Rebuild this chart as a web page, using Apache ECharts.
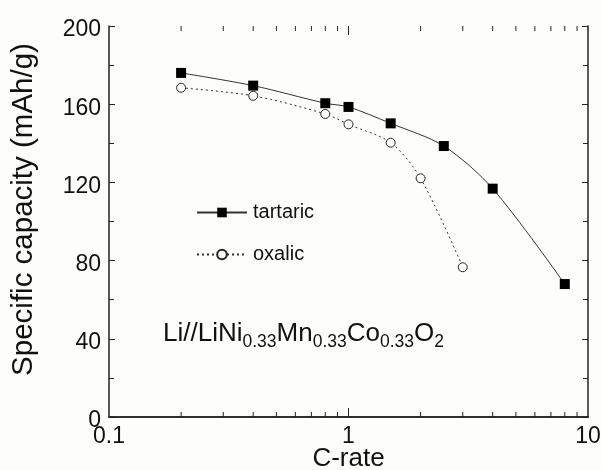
<!DOCTYPE html>
<html>
<head>
<meta charset="utf-8">
<script src="https://cdn.jsdelivr.net/npm/echarts@6/dist/echarts.min.js"></script>
<style>html,body{margin:0;padding:0;background:#fdfdf9;}#c{width:601px;height:470px;}</style>
</head>
<body>
<div id="c"></div>
<script>
// Data
const tartaricRate = [0.2, 0.4, 0.8, 1, 1.5, 2.5, 4, 8];
const tartaricCap  = [176, 169.5, 160.5, 158.6, 150.2, 138.6, 116.8, 68];
const oxalicRate   = [0.2, 0.4, 0.8, 1, 1.5, 2, 3];
const oxalicCap    = [168.4, 164.3, 155, 149.7, 140.3, 122.1, 76.6];
const xLabelTicks  = [0.1, 1, 10];
const xMajorTicks  = [1];
const xMinorTicks  = [0.2,0.3,0.4,0.5,0.6,0.7,0.8,0.9,2,3,4,5,6,7,8,9];
const yTickValues  = [0, 40, 80, 120, 160, 200];

const FONT = '"Liberation Sans", Arial, sans-serif';
const chart = echarts.init(document.getElementById('c'), null, {renderer: 'canvas'});
const gridPos = {left: 109, right: 13, top: 26, bottom: 53, containLabel: false, outerBoundsMode: 'none'};
const axisLine = {show: true, lineStyle: {color: '#222', width: 1.5}};
const tickStyle = {color: '#222', width: 1};
const Y_MIN = 0, Y_MAX = 200;

function xMain(pos, showLabel, extra) {
  return Object.assign({
    type: 'log', logBase: 10, min: 0.1, max: 10, gridIndex: 0, position: pos,
    axisLine: axisLine, axisTick: {show: false}, minorTick: {show: false},
    axisLabel: {show: showLabel, color: '#111', fontSize: 23, fontFamily: FONT, margin: 8,
      customValues: xLabelTicks, hideOverlap: false},
    splitLine: {show: false}
  }, extra || {});
}
function yAx(pos, showLabel, extra) {
  return Object.assign({
    type: 'value', min: Y_MIN, max: Y_MAX, interval: 40, gridIndex: 0, position: pos,
    axisLine: axisLine,
    axisTick: {show: true, inside: true, length: 6, lineStyle: tickStyle},
    minorTick: {show: true, splitNumber: 2, length: 5, lineStyle: tickStyle},
    axisLabel: {show: showLabel, color: '#111', fontFamily: FONT, margin: 8,
      customValues: yTickValues, formatter: '{a|{value}}',
      rich: {a: {fontSize: 23, fontFamily: FONT, color: '#111', padding: [8, 0, 0, 0]}}},
    splitLine: {show: false}
  }, extra || {});
}
// x-axis tick marks (log positions via the axis scale), mirrored on top and bottom
function tickSeries(values, len) {
  return {
    type: 'custom', xAxisIndex: 0, yAxisIndex: 0, silent: true, z: 1,
    data: values.map(v => [v]),
    renderItem: function (params, api) {
      const v = api.value(0);
      const b = api.coord([v, Y_MIN]);
      const t = api.coord([v, Y_MAX]);
      const st = {stroke: '#222', lineWidth: 1};
      return {type: 'group', children: [
        {type: 'line', shape: {x1: b[0], y1: b[1], x2: b[0], y2: b[1] - len}, style: st},
        {type: 'line', shape: {x1: t[0], y1: t[1], x2: t[0], y2: t[1] + len}, style: st}
      ]};
    }
  };
}

const option = {
  backgroundColor: '#fdfdf9',
  animation: false,
  grid: [Object.assign({}, gridPos)],
  xAxis: [
    xMain('bottom', true, {name: 'C-rate', nameLocation: 'middle', nameGap: 29, nameMoveOverlap: false,
      nameTextStyle: {fontSize: 26, fontFamily: FONT, color: '#111'}}),
    xMain('top', false)
  ],
  yAxis: [
    yAx('left', true, {name: 'Specific capacity (mAh/g)', nameLocation: 'middle', nameGap: 70,
      nameMoveOverlap: false,
      nameTextStyle: {fontSize: 29.5, fontFamily: FONT, color: '#111', padding: [0, 0, 0, 24]}}),
    yAx('right', false)
  ],
  legend: {
    orient: 'vertical', left: 196, top: 202.5, padding: 0, itemGap: 22,
    itemWidth: 50, itemHeight: 12,
    textStyle: {fontSize: 20, fontFamily: FONT, color: '#111', padding: [0, 0, 0, 1]},
    data: ['tartaric', 'oxalic']
  },
  series: [
    tickSeries(xMajorTicks, 9),
    tickSeries(xMinorTicks, 5),
    {
      name: 'tartaric', type: 'line', xAxisIndex: 0, yAxisIndex: 0,
      data: tartaricRate.map((x, i) => [x, tartaricCap[i]]),
      smooth: 0.3, symbol: 'rect', symbolSize: 10,
      itemStyle: {color: '#000', borderWidth: 0},
      lineStyle: {color: '#333', width: 1, type: 'solid'}
    },
    {
      name: 'oxalic', type: 'line', xAxisIndex: 0, yAxisIndex: 0,
      data: oxalicRate.map((x, i) => [x, oxalicCap[i]]),
      smooth: 0.3, symbol: 'circle', symbolSize: 9,
      itemStyle: {color: '#fdfdf9', borderColor: '#222', borderWidth: 1},
      lineStyle: {color: '#333', width: 1, type: [2, 3]}
    }
  ],
  graphic: [{
    type: 'text', left: 163, top: 321,
    style: {
      text: '{m|Li//LiNi}{s|0.33}{m|Mn}{s|0.33}{m|Co}{s|0.33}{m|O}{s|2}',
      fill: '#111',
      rich: {
        m: {fontSize: 26, fontFamily: FONT, lineHeight: 34, fill: '#111'},
        s: {fontSize: 17.5, fontFamily: FONT, lineHeight: 17, verticalAlign: 'bottom', fill: '#111'}
      }
    }
  }]
};
chart.setOption(option);
</script>
</body>
</html>
